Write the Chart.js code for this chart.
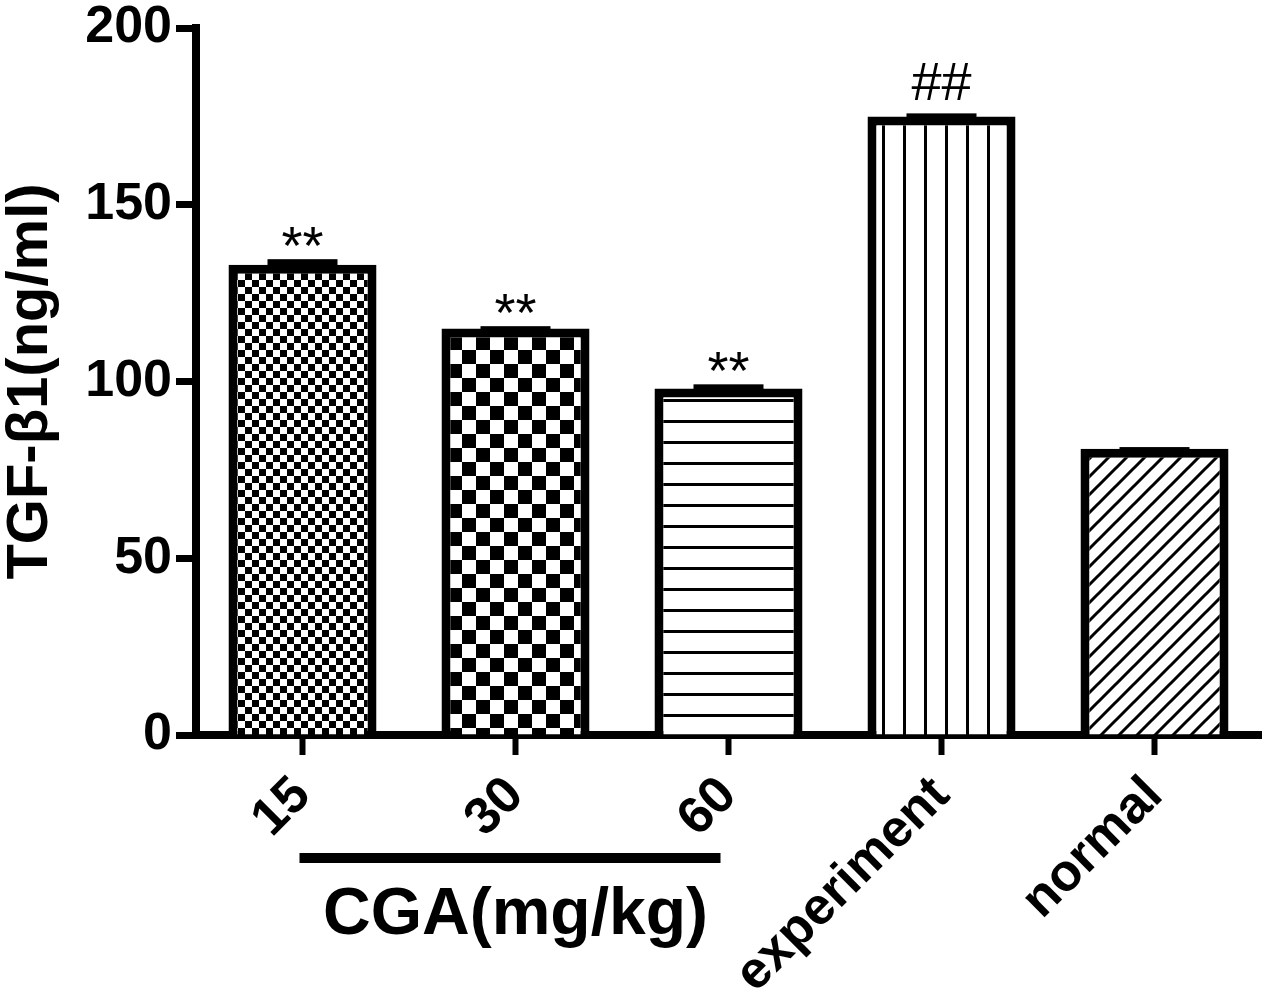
<!DOCTYPE html>
<html>
<head>
<meta charset="utf-8">
<script src="https://cdn.jsdelivr.net/npm/chart.js@4.4.1/dist/chart.umd.min.js"></script>
<style>
  html, body { margin: 0; padding: 0; background: #fff; }
  canvas { display: block; }
</style>
</head>
<body>
<canvas id="myChart" width="1267" height="997"></canvas>
<script>
//Datos de la grafica
const categories = ['15', '30', '60', 'experiment', 'normal']
const values = [133, 115, 98, 175, 81]
const errors = [1.6, 0.65, 1.2, 0.85, 0.45]
const marks = ['**', '**', '**', '##', '']
const yTicks = [0, 50, 100, 150, 200]
const yTitle = 'TGF-β1(ng/ml)'
const groupLabel = 'CGA(mg/kg)'
const groupRange = [0, 2] //categorias que abarca la linea de CGA
const fills = ['checkSmall', 'checkBig', 'hlines', 'vlines', 'diag']

const FONT = "'Liberation Sans', Arial, sans-serif"
const canvas = document.getElementById('myChart')
const ctx = canvas.getContext('2d')

//Crea los patrones de relleno de cada barra
const makePattern = kind => {
  const c = document.createElement('canvas')
  const g = c.getContext('2d')
  if (kind === 'checkSmall' || kind === 'checkBig') {
    const s = kind === 'checkSmall' ? 7 : 14
    c.width = c.height = s * 2
    g.fillStyle = '#fff'
    g.fillRect(0, 0, s * 2, s * 2)
    g.fillStyle = '#000'
    g.fillRect(0, 0, s, s)
    g.fillRect(s, s, s, s)
  } else if (kind === 'hlines') {
    c.width = 4
    c.height = 21
    g.fillStyle = '#fff'
    g.fillRect(0, 0, 4, 21)
    g.fillStyle = '#000'
    g.fillRect(0, 0, 4, 3)
  } else if (kind === 'vlines') {
    c.width = 21
    c.height = 4
    g.fillStyle = '#fff'
    g.fillRect(0, 0, 21, 4)
    g.fillStyle = '#000'
    g.fillRect(0, 0, 3, 4)
  } else {
    const s = 18
    c.width = c.height = s
    g.fillStyle = '#fff'
    g.fillRect(0, 0, s, s)
    g.strokeStyle = '#000'
    g.lineWidth = 3
    g.beginPath()
    g.moveTo(0, s); g.lineTo(s, 0)
    g.moveTo(-2, 2); g.lineTo(2, -2)
    g.moveTo(s - 2, s + 2); g.lineTo(s + 2, s - 2)
    g.stroke()
  }
  return ctx.createPattern(c, 'repeat')
}

//Barras de error, asteriscos y la etiqueta del grupo CGA
const extras = {
  id: 'extras',
  afterDraw(chart) {
    const { ctx, scales: { x, y }, chartArea } = chart
    ctx.save()
    ctx.fillStyle = '#000'
    values.forEach((v, i) => {
      const cx = x.getPixelForValue(i)
      const top = y.getPixelForValue(v + errors[i])
      const base = y.getPixelForValue(v)
      ctx.fillRect(cx - 35, top, 70, Math.max(base - top, 0) + 6)
      if (marks[i]) {
        ctx.font = '54px ' + FONT
        ctx.textAlign = 'center'
        ctx.textBaseline = 'alphabetic'
        const m = ctx.measureText(marks[i])
        ctx.fillText(marks[i], cx, top - 13 - m.actualBoundingBoxDescent)
      }
    })
    const x0 = x.getPixelForValue(groupRange[0])
    const x1 = x.getPixelForValue(groupRange[1])
    ctx.fillRect(x0 - 3, chartArea.bottom + 118, x1 - x0 - 5, 10)
    ctx.font = 'bold 66px ' + FONT
    ctx.textAlign = 'center'
    ctx.textBaseline = 'alphabetic'
    ctx.fillText(groupLabel, (x0 + x1) / 2, chartArea.bottom + 199)
    ctx.restore()
  }
}

const myChart = new Chart(ctx, {
  type: 'bar',
  data: {
    labels: categories,
    datasets: [{
      data: values,
      backgroundColor: fills.map(makePattern),
      borderColor: '#000',
      borderWidth: 9,
      borderSkipped: 'start',
      barPercentage: 0.695,
      categoryPercentage: 1
    }]
  },
  options: {
    responsive: false,
    animation: false,
    devicePixelRatio: 1,
    layout: { padding: { top: 28, right: 6, left: 0, bottom: 0 } },
    plugins: { legend: { display: false }, tooltip: { enabled: false } },
    scales: {
      x: {
        grid: { drawOnChartArea: false, offset: false, tickLength: 20, tickWidth: 6, color: '#000' },
        border: { display: true, width: 8, color: '#000' },
        ticks: {
          color: '#000',
          font: { family: FONT, size: 52, weight: 'bold' },
          minRotation: 45,
          maxRotation: 45,
          padding: 10
        },
        afterFit: s => { s.height = 262; s.paddingLeft = 0; s.paddingRight = 0 }
      },
      y: {
        min: 0,
        max: 200,
        afterBuildTicks: s => { s.ticks = yTicks.map(v => ({ value: v })) },
        grid: { drawOnChartArea: false, tickLength: 20, tickWidth: 7, color: '#000' },
        border: { display: true, width: 8, color: '#000' },
        ticks: {
          color: '#000',
          font: { family: FONT, size: 52, weight: 'bold' },
          padding: 4
        },
        title: {
          display: true,
          text: yTitle,
          color: '#000',
          font: { family: FONT, size: 58, weight: 'bold', lineHeight: 1 },
          padding: { top: 2, bottom: 0 }
        },
        afterFit: s => { s.width = 196; s.paddingTop = 0; s.paddingBottom = 0 }
      }
    }
  },
  plugins: [extras]
})
</script>
</body>
</html>
